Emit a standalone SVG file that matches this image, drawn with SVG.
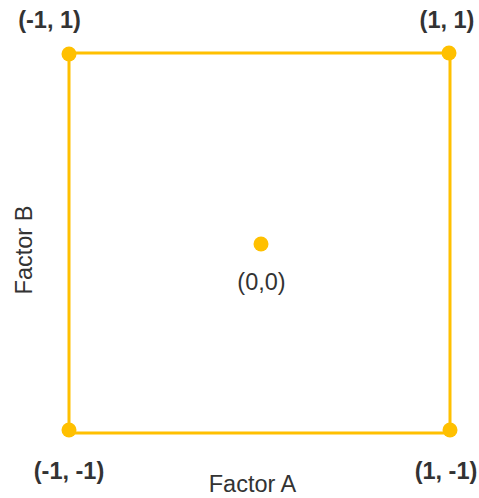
<svg xmlns="http://www.w3.org/2000/svg" width="479" height="498" viewBox="0 0 479 498">
<style>
.ln{stroke:#FFC000;stroke-width:3;fill:none}
.pt{fill:#FFC000}
.lb{font-family:"Liberation Sans",Arial,sans-serif;font-size:23.5px;fill:#333333;text-anchor:middle}
.b{font-weight:bold}
</style>
<rect width="479" height="498" fill="#ffffff"/>
<g id="connectors">
<polyline class="ln" points="69,53 450,53 450,433 69,433 69,53"/>
</g>
<g id="n-tl"><circle class="pt" cx="69" cy="54" r="7.5"/><text class="lb b" x="49.5" y="28">(-1, 1)</text></g>
<g id="n-tr"><circle class="pt" cx="449" cy="53" r="7.5"/><text class="lb b" x="447" y="28">(1, 1)</text></g>
<g id="n-bl"><circle class="pt" cx="69" cy="430" r="7.5"/><text class="lb b" x="69" y="479">(-1, -1)</text></g>
<g id="n-br"><circle class="pt" cx="450" cy="430" r="7.5"/><text class="lb b" x="446" y="479">(1, -1)</text></g>
<g id="n-c"><circle class="pt" cx="261" cy="244" r="7.5"/><text class="lb" x="261.5" y="290">(0,0)</text></g>
<g id="axis-a"><text class="lb" x="252.5" y="492" font-size="23">Factor A</text></g>
<g id="axis-b"><text class="lb" transform="translate(32,250) rotate(-90)">Factor B</text></g>
</svg>
